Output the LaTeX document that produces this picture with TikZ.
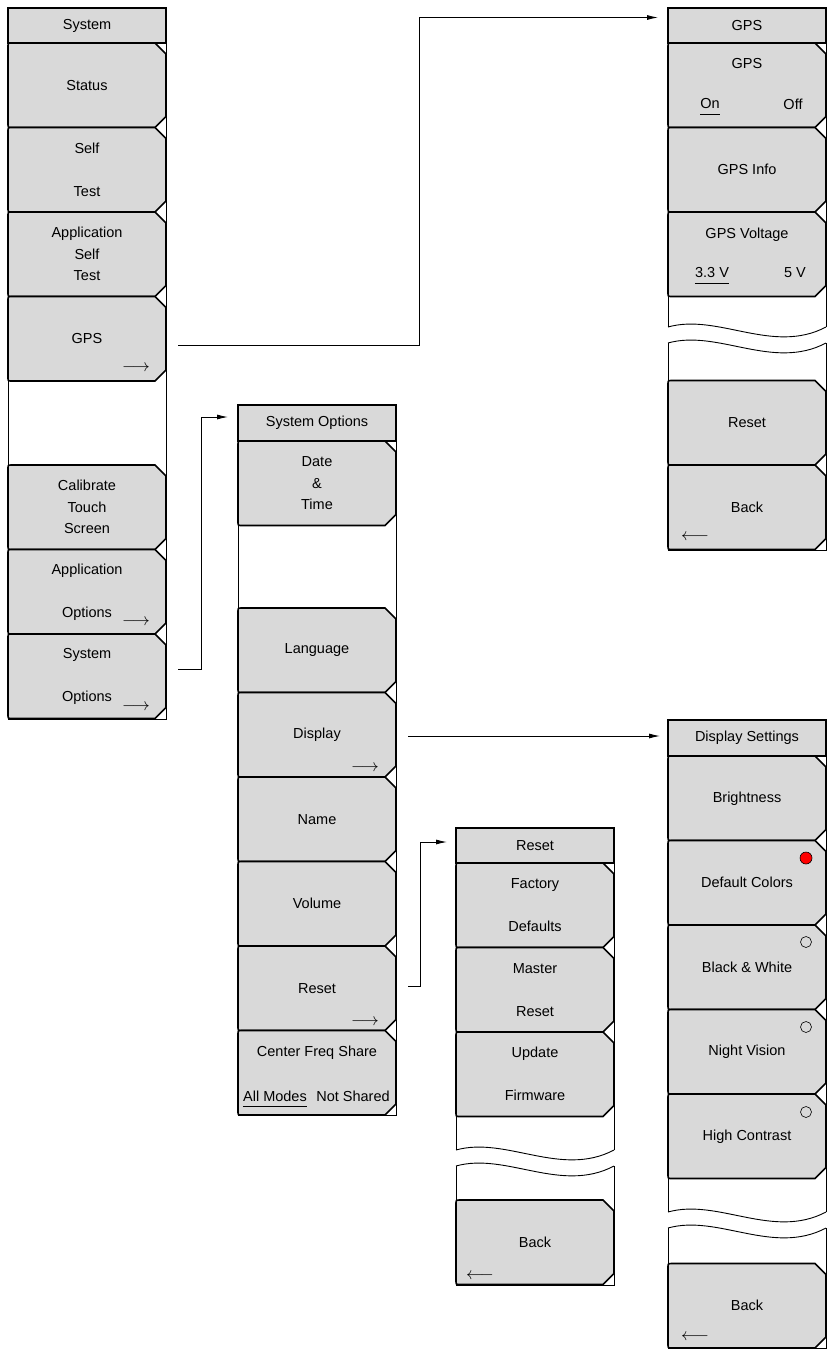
\documentclass[tikz,border=0pt]{standalone}
\usepackage{fontspec}
\setmainfont{Liberation Sans}
\usetikzlibrary{arrows.meta}
\definecolor{keygray}{gray}{0.85}
\newcommand{\keyfont}{\fontsize{14.5pt}{21.5pt}\selectfont}
% key outline: left x, top y, name, label
\newcommand{\softkey}[4]{%
  \draw[keyshape] (#1+147,#2) -- (#1+158,#2+11) -- (#1+158,#2+73.5) -- (#1+147,#2+84.5)
    -- (#1+4,#2+84.5) .. controls (#1,#2+84.5) .. (#1,#2+80.5)
    -- (#1,#2+4) .. controls (#1,#2) .. (#1+4,#2) -- cycle;
  \node[keytext] (#3) at (#1+79,#2+42.25) {#4};}
% wavy break in a menu: left x, middle y
\newcommand{\breakmark}[2]{%
  \draw[panel] (#1,#2-8) .. controls (#1+50,#2-22) and (#1+105,#2+20) .. (#1+158,#2-8);
  \draw[panel] (#1,#2+8) .. controls (#1+50,#2-6) and (#1+105,#2+36) .. (#1+158,#2+8);}

\begin{document}
\begin{tikzpicture}[x=1pt,y=-1pt,
  every node/.style={font=\keyfont},
  keyshape/.style={draw=black,line width=1.6pt,fill=keygray},
  keytext/.style={align=center},
  keyarrow/.style={font=\fontsize{16pt}{20pt}\selectfont},
  menutitle/.style={draw,line width=1.6pt,fill=keygray,minimum width=158pt,minimum height=35pt,inner sep=0pt,outer sep=0pt,anchor=north west},
  panel/.style={line width=0.9pt},
  choice/.style={inner sep=0pt},
  pickline/.style={line width=0.8pt},
  jump/.style={line width=0.9pt,-{Latex[length=11pt,width=5pt]}}]
\useasboundingbox (0,0) rectangle (827,1349);

% System
\draw[panel] (8,8) rectangle (166,719);
\node[menutitle] (system) at (8,8) {System};
\softkey{8}{43}{status}{Status}
\softkey{8}{127.5}{selftest}{Self\\[21.5pt]Test}
\softkey{8}{212}{appselftest}{Application\\Self\\Test}
\softkey{8}{296.5}{gpskey}{GPS}
\softkey{8}{465}{touch}{Calibrate\\Touch\\Screen}
\softkey{8}{549.5}{appopt}{Application\\[21.5pt]Options}
\softkey{8}{634}{sysoptkey}{System\\[21.5pt]Options}
\node[keyarrow] at (136,368) {$\longrightarrow$};
\node[keyarrow] at (136,622) {$\longrightarrow$};
\node[keyarrow] at (136,707) {$\longrightarrow$};

% System Options
\draw[panel] (238,405) rectangle (396,1115);
\node[menutitle,minimum height=36pt] (sysopt) at (238,405) {System Options};
\softkey{238}{441}{datetime}{Date\\\&\\Time}
\softkey{238}{608}{language}{Language}
\softkey{238}{692.5}{display}{Display}
\softkey{238}{777}{namekey}{Name}
\softkey{238}{861.5}{volume}{Volume}
\softkey{238}{946}{resetkey}{Reset}
\softkey{238}{1030.5}{cfshare}{Center Freq Share\\[21.5pt]\mbox{}}
\node[keyarrow] at (365,768) {$\longrightarrow$};
\node[keyarrow] at (365,1022) {$\longrightarrow$};
\node[choice] (allmodes) at (275,1096) {All Modes};
\node[choice] (notshared) at (353,1096) {Not Shared};
\draw[pickline] ([yshift=-5.5pt]allmodes.base west) -- ([yshift=-5.5pt]allmodes.base east);

% Reset
\draw[panel] (456,1150) -- (456,828) -- (614,828) -- (614,1150);
\draw[panel] (456,1166) -- (456,1285) -- (614,1285) -- (614,1166);
\breakmark{456}{1158}
\node[menutitle] (resetmenu) at (456,828) {Reset};
\softkey{456}{863}{factory}{Factory\\[21.5pt]Defaults}
\softkey{456}{947.5}{master}{Master\\[21.5pt]Reset}
\softkey{456}{1032}{firmware}{Update\\[21.5pt]Firmware}
\softkey{456}{1200}{resetback}{Back}
\node[keyarrow] at (480,1276) {$\longleftarrow$};

% GPS
\draw[panel] (668,327) -- (668,8) -- (826,8) -- (826,327);
\draw[panel] (668,343) -- (668,550) -- (826,550) -- (826,343);
\breakmark{668}{335}
\node[menutitle] (gpsmenu) at (668,8) {GPS};
\softkey{668}{43}{gpsonoff}{GPS\\[21.5pt]\mbox{}}
\node[choice] (gpson) at (710,104) {On};
\node[choice] (gpsoff) at (793,104) {Off};
\draw[pickline] ([yshift=-5pt]gpson.base west) -- ([yshift=-5pt]gpson.base east);
\softkey{668}{127.5}{gpsinfo}{GPS Info}
\softkey{668}{212}{gpsvolt}{GPS Voltage\\[21.5pt]\mbox{}}
\node[choice] (lowvolt) at (712,273) {3.3 V};
\node[choice] (highvolt) at (795,273) {5 V};
\draw[pickline] ([yshift=-5pt]lowvolt.base west) -- ([yshift=-5pt]lowvolt.base east);
\softkey{668}{380.5}{gpsreset}{Reset}
\softkey{668}{465}{gpsback}{Back}
\node[keyarrow] at (695,537) {$\longleftarrow$};

% Display Settings
\draw[panel] (668,1212) -- (668,720) -- (826,720) -- (826,1212);
\draw[panel] (668,1228) -- (668,1348) -- (826,1348) -- (826,1228);
\breakmark{668}{1220}
\node[menutitle,minimum height=36pt] (dispset) at (668,720) {Display Settings};
\softkey{668}{756}{brightness}{Brightness}
\softkey{668}{840.5}{defcolors}{Default Colors}
\softkey{668}{925}{blackwhite}{Black \& White}
\softkey{668}{1009.5}{nightvision}{Night Vision}
\softkey{668}{1094}{contrast}{High Contrast}
\softkey{668}{1263.5}{dispback}{Back}
\node[keyarrow] at (695,1337) {$\longleftarrow$};
\filldraw[fill=red,draw=black,line width=0.6pt] (806,858) circle (6pt);
\draw[line width=0.6pt] (806,942) circle (5.5pt) (806,1027) circle (5.5pt) (806,1112) circle (5.5pt);

% links
\coordinate (gpsout) at (178,345);
\coordinate (sysoptout) at (178,669);
\coordinate (dispout) at (408,736);
\coordinate (resetout) at (408,986);
\draw[jump] (gpsout) -- ++(241,0) |- ([xshift=-10pt,yshift=8pt]gpsmenu.west);
\draw[jump] (sysoptout) -- ++(23,0) |- ([xshift=-10pt,yshift=6pt]sysopt.west);
\draw[jump] (dispout) -- ([xshift=-8pt,yshift=2pt]dispset.west);
\draw[jump] (resetout) -- ++(12,0) |- ([xshift=-9pt,yshift=3.5pt]resetmenu.west);
\end{tikzpicture}
\end{document}
